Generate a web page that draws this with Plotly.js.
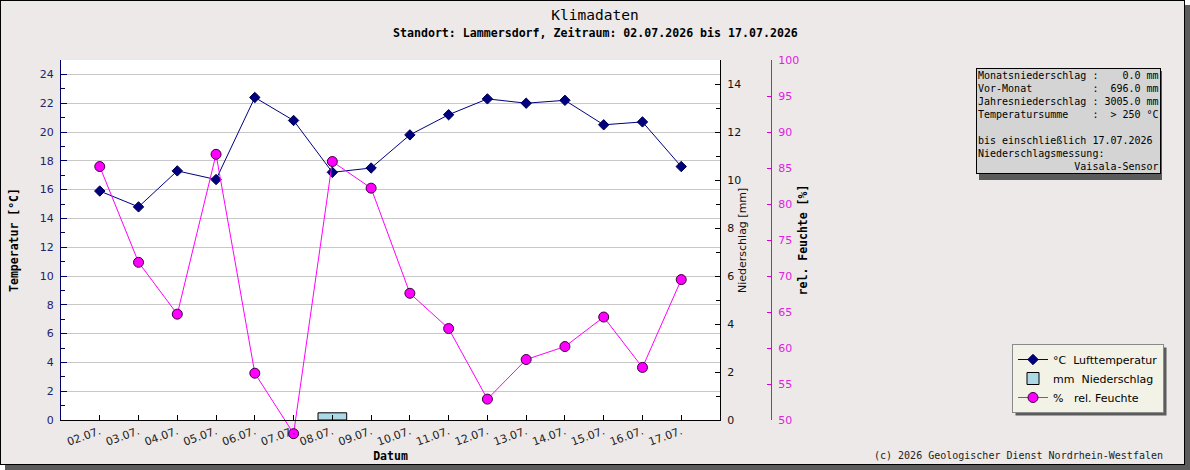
<!DOCTYPE html>
<html>
<head>
<meta charset="utf-8">
<script src="https://cdn.plot.ly/plotly-3.0.1.min.js"></script>
<style>
  html, body { margin: 0; padding: 0; background: #fff; }
  #shadow { position: absolute; left: 5px; top: 5px; width: 1185px; height: 465px; background: #5b5b5b; }
  #frame  { position: absolute; left: 0; top: 0; width: 1185px; height: 465px; box-sizing: border-box;
            border: 1px solid #000; background: #ECE9E8; }
  #chart  { position: absolute; left: 0; top: 0; width: 1190px; height: 470px; }
</style>
</head>
<body>
<div id="shadow"></div>
<div id="frame"></div>
<div id="chart"></div>
<script>
// Daily values, Lammersdorf station, 02.07.2026 - 17.07.2026
const dates = ['02.07.', '03.07.', '04.07.', '05.07.', '06.07.', '07.07.', '08.07.', '09.07.',
               '10.07.', '11.07.', '12.07.', '13.07.', '14.07.', '15.07.', '16.07.', '17.07.'];
const airTemperature = [15.9, 14.8, 17.3, 16.7, 22.4, 20.8, 17.2, 17.5,
                        19.8, 21.2, 22.3, 22.0, 22.2, 20.5, 20.7, 17.6];   // °C
const precipitation  = [0, 0, 0, 0, 0, 0, 0.3, 0,
                        0, 0, 0, 0, 0, 0, 0, 0];                           // mm
const humidity       = [85.2, 71.9, 64.7, 86.9, 56.5, 48.1, 85.9, 82.2,
                        67.6, 62.7, 52.9, 58.4, 60.2, 64.3, 57.3, 69.5];   // %

const legendNames = ['°C\u00a0\u00a0Lufttemperatur', 'mm\u00a0\u00a0Niederschlag', '%\u00a0\u00a0\u00a0rel. Feuchte'];

const subtitle = 'Standort: Lammersdorf, Zeitraum: 02.07.2026 bis 17.07.2026';
const footer = '(c) 2026 Geologischer Dienst Nordrhein-Westfalen';

const infoLines = [
  'Monatsniederschlag :    0.0 mm',
  'Vor-Monat          :  696.0 mm',
  'Jahresniederschlag : 3005.0 mm',
  'Temperatursumme    :  > 250 °C',
  ' ',
  'bis einschließlich 17.07.2026',
  'Niederschlagsmessung:',
  '                Vaisala-Sensor'
];

// page pixel -> paper fraction (plot area spans x 61..1190, y 60..420)
const L = 61, W = 1129, T = 60, H = 360;
const px = x => (x - L) / W;
const py = y => (T + H - y) / H;

const MONO = 'DejaVu Sans Mono';
const SANS = 'DejaVu Sans';
const NAVY = '#000080';
const MAG  = '#ff00ff';
const RAIN = '#add8e6';
const SHADOW = '#5b5b5b';

const traces = [
  {
    type: 'bar', x: dates, y: precipitation, yaxis: 'y2', name: legendNames[1], legendrank: 2,
    width: 0.74,
    // dry days get no outline so nothing shows on the baseline
    marker: { color: RAIN, line: { color: '#000', width: precipitation.map(v => v > 0 ? 1 : 0) } },
    hoverinfo: 'skip'
  },
  {
    type: 'scatter', mode: 'lines+markers', x: dates, y: airTemperature, yaxis: 'y',
    name: legendNames[0], legendrank: 1,
    line: { color: NAVY, width: 1 },
    marker: { symbol: 'diamond', size: 8, color: NAVY, line: { color: '#00004a', width: 1 } },
    cliponaxis: false, hoverinfo: 'skip'
  },
  {
    type: 'scatter', mode: 'lines+markers', x: dates, y: humidity, yaxis: 'y3',
    name: legendNames[2], legendrank: 3,
    line: { color: MAG, width: 1 },
    marker: { symbol: 'circle', size: 10, color: MAG, line: { color: '#3a003a', width: 1 } },
    cliponaxis: false, hoverinfo: 'skip'
  }
];

const layout = {
  width: 1190, height: 470,
  margin: { l: L, r: 0, t: T, b: 470 - T - H, pad: 0 },
  paper_bgcolor: 'rgba(0,0,0,0)',
  plot_bgcolor: '#ffffff',
  showlegend: true,
  hovermode: false,
  title: {
    text: 'Klimadaten',
    font: { family: MONO, size: 14.5, color: '#000' },
    x: 0.5, xref: 'container', xanchor: 'center',
    y: 1 - 15 / 470, yref: 'container', yanchor: 'middle'
  },
  xaxis: {
    type: 'category', domain: [0, px(720)], range: [-1, 16],
    showline: true, linecolor: '#000', linewidth: 1, mirror: false,
    ticks: 'inside', ticklen: 5, tickcolor: '#000',
    tickangle: -20, tickfont: { family: SANS, size: 11, color: '#222' },
    showgrid: false, zeroline: false,
    title: { text: 'Datum', font: { family: MONO, size: 11.5, color: '#000', weight: 'bold' }, standoff: 3 }
  },
  yaxis: {
    range: [0, 25], dtick: 2, tick0: 0,
    showline: true, linecolor: '#000066', linewidth: 1,
    ticks: 'inside', ticklen: 6, tickcolor: '#000066',
    minor: { dtick: 1, tick0: 0, ticks: 'inside', ticklen: 4, tickcolor: '#000066', showgrid: false },
    tickfont: { family: SANS, size: 11, color: '#22226e' },
    ticklabelstandoff: 4,
    showgrid: true, gridcolor: '#c8c8c8', gridwidth: 1, zeroline: false,
    title: { text: 'Temperatur [°C]', font: { family: MONO, size: 11.5, color: '#000', weight: 'bold' }, standoff: 18 }
  },
  yaxis2: {
    overlaying: 'y', side: 'right', anchor: 'x',
    range: [0, 15], dtick: 2, tick0: 0,
    showline: true, linecolor: '#000', linewidth: 1,
    ticks: 'inside', ticklen: 5, tickcolor: '#000',
    minor: { dtick: 1, tick0: 0, ticks: 'inside', ticklen: 4, tickcolor: '#000', showgrid: false },
    tickfont: { family: SANS, size: 11, color: '#111' },
    ticklabelstandoff: 4,
    showgrid: false, zeroline: false
  },
  yaxis3: {
    overlaying: 'y', side: 'right', anchor: 'free', position: px(771),
    range: [50, 100], dtick: 5, tick0: 50,
    showline: true, linecolor: '#dd00dd', linewidth: 1,
    ticks: 'inside', ticklen: 4, tickcolor: '#dd00dd',
    tickfont: { family: SANS, size: 11, color: '#e020e0' },
    ticklabelstandoff: 4,
    showgrid: false, zeroline: false,
    title: { text: 'rel. Feuchte [%]', font: { family: MONO, size: 11.5, color: '#000', weight: 'bold' }, standoff: 0 }
  },
  legend: {
    x: px(1012), y: py(344), xanchor: 'left', yanchor: 'top',
    bgcolor: '#f2f2e6', bordercolor: '#8a8a8a', borderwidth: 1,
    font: { family: SANS, size: 11, color: '#000' },
    traceorder: 'normal', tracegroupgap: 0
  },
  annotations: [
    {
      text: subtitle,
      xref: 'paper', yref: 'paper', x: px(595), y: py(33),
      xanchor: 'center', yanchor: 'middle', showarrow: false,
      font: { family: MONO, size: 11.6, color: '#000', weight: 'bold' }
    },
    {
      // precipitation axis caption sits close to its tick labels
      text: 'Niederschlag [mm]', textangle: -90,
      xref: 'paper', yref: 'paper', x: px(742), y: py(241),
      xanchor: 'center', yanchor: 'middle', showarrow: false,
      font: { family: SANS, size: 11, color: '#111' }
    },
    {
      text: infoLines.map(s => s.replace(/ /g, '\u00a0')).join('<br>'),
      xref: 'paper', yref: 'paper', x: px(976), y: py(68),
      xanchor: 'left', yanchor: 'top', align: 'left', showarrow: false,
      bgcolor: '#d4d4d4', bordercolor: '#000', borderwidth: 1, borderpad: 1,
      font: { family: MONO, size: 10, color: '#000' }
    },
    {
      text: footer,
      xref: 'paper', yref: 'paper', x: px(1165), y: py(455),
      xanchor: 'right', yanchor: 'middle', showarrow: false,
      font: { family: MONO, size: 10, color: '#222' }
    }
  ],
  shapes: [
    // drop shadow of the info box
    { type: 'rect', xref: 'paper', yref: 'paper', layer: 'below',
      x0: px(979), x1: px(1162), y0: py(71), y1: py(180),
      fillcolor: SHADOW, line: { width: 0 } }
  ]
};

function finishTouches(gd) {
  // humidity may dip below the 50 % floor: keep those points and segments visible
  gd.querySelectorAll('.scatterlayer .trace').forEach(tr => {
    tr.querySelectorAll('.point').forEach(p => p.removeAttribute('display'));
    tr.removeAttribute('clip-path');
    tr.querySelectorAll('[clip-path]').forEach(e => e.removeAttribute('clip-path'));
  });
  // the precipitation legend swatch keeps its black outline
  const rainFill = 'rgb(173, 216, 230)';
  gd.querySelectorAll('.legend path').forEach(p => {
    const fill = (p.style.fill || p.getAttribute('fill') || '').replace(/\s/g, '');
    if (p.classList.contains('legendbar') || fill === rainFill.replace(/\s/g, '') || fill === RAIN) {
      p.style.setProperty('stroke', 'rgb(0, 0, 0)');
      p.style.setProperty('stroke-width', '1px');
      p.style.setProperty('stroke-opacity', '1');
    }
  });
}

Plotly.newPlot('chart', traces, layout, { staticPlot: true, displayModeBar: false })
  .then(gd => {
    // drop shadow behind the legend, sized from the drawn legend box
    const box = gd.querySelector('.legend .bg').getBoundingClientRect();
    const ref = gd.getBoundingClientRect();
    const l = box.left - ref.left, t = box.top - ref.top;
    const shapes = layout.shapes.concat([{
      type: 'rect', xref: 'paper', yref: 'paper', layer: 'below',
      x0: px(l + 3), x1: px(l + box.width + 3), y0: py(t + 3), y1: py(t + box.height + 3),
      fillcolor: SHADOW, line: { width: 0 }
    }]);
    return Plotly.relayout(gd, { shapes: shapes });
  })
  .then(gd => {
    finishTouches(gd);
    setTimeout(() => finishTouches(gd), 50);
  });
</script>
</body>
</html>
